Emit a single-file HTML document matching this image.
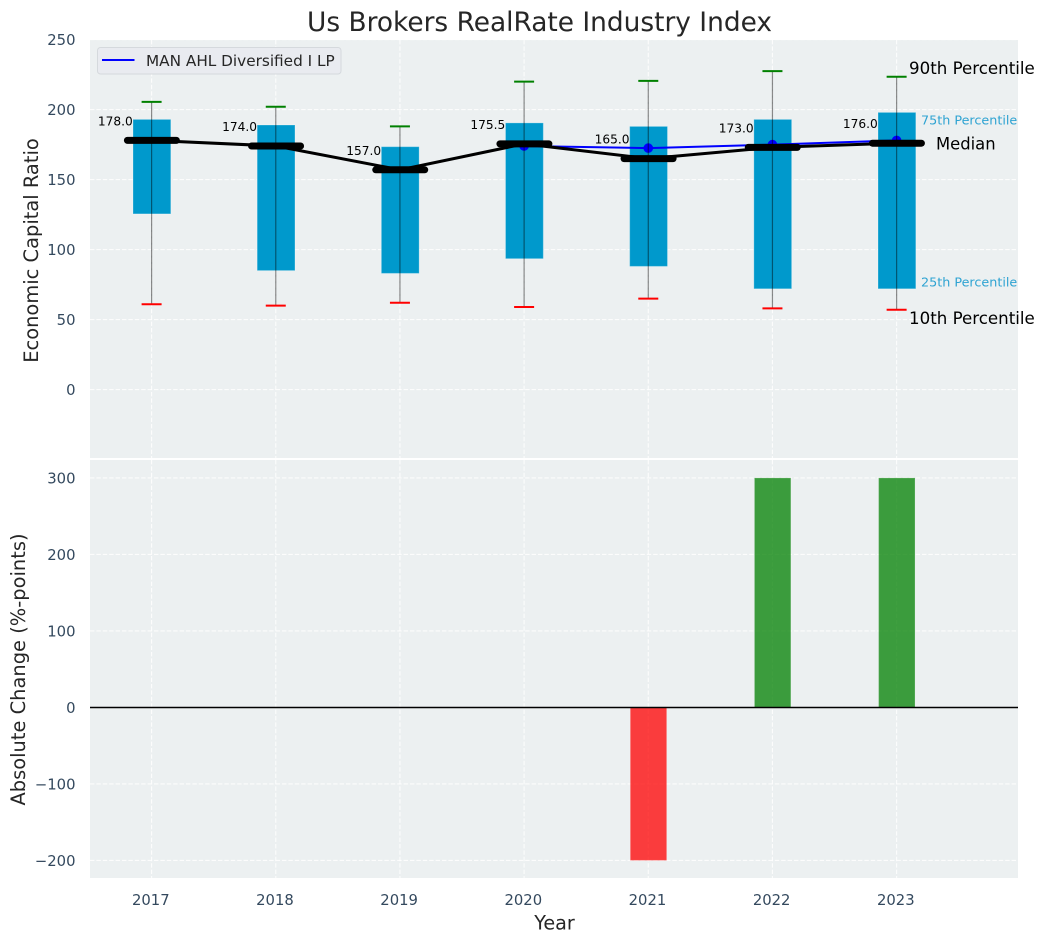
<!DOCTYPE html>
<html><head><meta charset="utf-8"><title>Us Brokers RealRate Industry Index</title>
<style>
html,body{margin:0;padding:0;background:#fff}
svg{display:block}
text{font-family:"DejaVu Sans","Liberation Sans",sans-serif}
</style></head>
<body>
<svg id="chart" width="1044" height="942" viewBox="0 0 1044 942" xmlns="http://www.w3.org/2000/svg">
<rect x="90" y="40" width="928" height="418" fill="#ecf0f1"/>
<rect x="90" y="460" width="928" height="418" fill="#ecf0f1"/>
<g id="layer"></g>
<text x="539.5" y="31" font-size="26.4" fill="#262626" text-anchor="middle">Us Brokers RealRate Industry Index</text>
<text transform="translate(38 250.5) rotate(-90)" font-size="19.44" fill="#262626" text-anchor="middle">Economic Capital Ratio</text>
<text transform="translate(25 669.5) rotate(-90)" font-size="19.44" fill="#262626" text-anchor="middle">Absolute Change (%-points)</text>
<text x="554.5" y="929.5" font-size="19.2" fill="#262626" text-anchor="middle">Year</text>
<g>
<rect x="97.5" y="47.5" width="243.500" height="26.5" rx="3" fill="#e9ebf0" stroke="#d5d9dd" stroke-width="1"/>
<line x1="102" y1="60" x2="134.500" y2="60" stroke="#0000ff" stroke-width="2"/>
<text x="146" y="66" font-size="15.28" fill="#262626">MAN AHL Diversified I LP</text>
</g>
<text x="909" y="74" font-size="16.67" fill="#000">90th Percentile</text>
<text x="921" y="124.500" font-size="12.75" fill="#2ea3d2">75th Percentile</text>
<text x="936" y="149.500" font-size="16.4" fill="#000">Median</text>
<text x="921" y="286.500" font-size="12.75" fill="#2ea3d2">25th Percentile</text>
<text x="909" y="324" font-size="16.67" fill="#000">10th Percentile</text>
</svg>
<script>
const years = [2017, 2018, 2019, 2020, 2021, 2022, 2023];
const p10 = [61, 60, 62, 59, 65, 58, 57];
const p25 = [125.5, 85, 83, 93.5, 88, 72, 72];
const median = [178, 174, 157, 175.5, 165, 173, 176];
const p75 = [193, 189, 173.5, 190.5, 188, 193, 198];
const p90 = [205.5, 202, 188, 220, 220.5, 227.5, 223.5];
const fund = [null, null, null, 174, 172.5, 175, 178];
const change = [null, null, null, null, -200, 300, 300];
const topTicks = [0, 50, 100, 150, 200, 250];
const bottomTicks = [-200, -100, 0, 100, 200, 300];

const SVGNS = 'http://www.w3.org/2000/svg';
const layer = document.getElementById('layer');
const PLOT_L = 90, PLOT_R = 1018, TOP_T = 40, TOP_B = 458, BOT_T = 460, BOT_B = 878;
const x = yr => 151.6 + (yr - 2017) * 124.17;
const yTop = v => 389.6 - v * 1.4;
const yBot = v => 707.4 - v * 0.765;
const tickFill = '#34495e';

function make(tag, attrs, text) {
  const n = document.createElementNS(SVGNS, tag);
  for (const k in attrs) n.setAttribute(k, attrs[k]);
  if (text !== undefined) n.textContent = text;
  layer.appendChild(n);
  return n;
}
const gridStyle = {stroke: '#fff', 'stroke-width': 1.1, 'stroke-dasharray': '4.4 2', opacity: 0.85};

topTicks.forEach(t => {
  const g = make('line', Object.assign({x1: PLOT_L, x2: PLOT_R, y1: yTop(t), y2: yTop(t)}, gridStyle));
  
  
  const l = make('text', {x: 75.500, y: yTop(t) + 5.5, 'font-size': 14.8, fill: tickFill, 'text-anchor': 'end'}, String(t));
  
  
});
bottomTicks.forEach(t => {
  const g = make('line', Object.assign({x1: PLOT_L, x2: PLOT_R, y1: yBot(t), y2: yBot(t)}, gridStyle));
  
  
  const l = make('text', {x: 75.500, y: yBot(t) + 5.5, 'font-size': 14.8, fill: tickFill, 'text-anchor': 'end'}, String(t).replace('-', '\u2212'));
  
  
});
years.forEach(yr => {
  const a = make('line', Object.assign({x1: x(yr), x2: x(yr), y1: TOP_T, y2: TOP_B}, gridStyle));
  
  
  const b = make('line', Object.assign({x1: x(yr), x2: x(yr), y1: BOT_T, y2: BOT_B}, gridStyle));
  
  
  const l = make('text', {x: x(yr) - 0.8, y: 905, 'font-size': 14.8, fill: tickFill, 'text-anchor': 'middle'}, String(yr));
  
  
});

/* change bars */
years.forEach((yr, i) => {
  if (change[i] === null) return;
  const y0 = yBot(0), y1 = yBot(change[i]);
  const r = make('rect', {x: x(yr) - 18, y: Math.min(y0, y1), width: 36.4, height: Math.abs(y1 - y0),
    fill: change[i] >= 0 ? '#008000' : '#ff0000', 'fill-opacity': 0.75, stroke: '#fff', 'stroke-opacity': 0.2, 'stroke-width': 1});
  
  
});
const zero = make('line', {x1: PLOT_L, x2: PLOT_R, y1: 707.5, y2: 707.5, stroke: '#000', 'stroke-width': 1.4});



/* percentile boxes */
years.forEach((yr, i) => {
  const r = make('rect', {x: x(yr) - 18.6, y: yTop(p75[i]), width: 37.8, height: yTop(p25[i]) - yTop(p75[i]),
    fill: '#0099cc', stroke: '#fff', 'stroke-opacity': 0.25, 'stroke-width': 1});
  
  
});

/* fund line */
const fundPts = years.map((yr, i) => fund[i] === null ? null : x(yr) + ',' + yTop(fund[i])).filter(Boolean).join(' ');
const fundLine = make('polyline', {points: fundPts, fill: 'none', stroke: '#0000ff', 'stroke-width': 2});


years.forEach((yr, i) => {
  if (fund[i] === null) return;
  const c = make('circle', {cx: x(yr), cy: yTop(fund[i]), r: 4.8, fill: '#0000ff'});
  
  
});

/* whiskers and caps */
years.forEach((yr, i) => {
  const w = make('line', {x1: x(yr), x2: x(yr), y1: yTop(p10[i]), y2: yTop(p90[i]), stroke: '#000', 'stroke-opacity': 0.45, 'stroke-width': 1.2});
  
  
  const hi = make('line', {x1: x(yr) - 10, x2: x(yr) + 10, y1: yTop(p90[i]), y2: yTop(p90[i]), stroke: '#008000', 'stroke-width': 2});
  
  
  const lo = make('line', {x1: x(yr) - 10, x2: x(yr) + 10, y1: yTop(p10[i]), y2: yTop(p10[i]), stroke: '#ff0000', 'stroke-width': 2});
  
  
});

/* median */
const medPts = years.map((yr, i) => x(yr) + ',' + yTop(median[i])).join(' ');
const medLine = make('polyline', {points: medPts, fill: 'none', stroke: '#000', 'stroke-width': 3});


years.forEach((yr, i) => {
  const m = make('line', {x1: x(yr) - 24.2, x2: x(yr) + 24.8, y1: yTop(median[i]), y2: yTop(median[i]), stroke: '#000', 'stroke-width': 7, 'stroke-linecap': 'round'});
  
  
  const t = make('text', {x: x(yr) - 18.8, y: yTop(median[i]) - 15, 'font-size': 12.2, fill: '#000', 'text-anchor': 'end'}, median[i].toFixed(1));
  
  
});
</script>
</body></html>
